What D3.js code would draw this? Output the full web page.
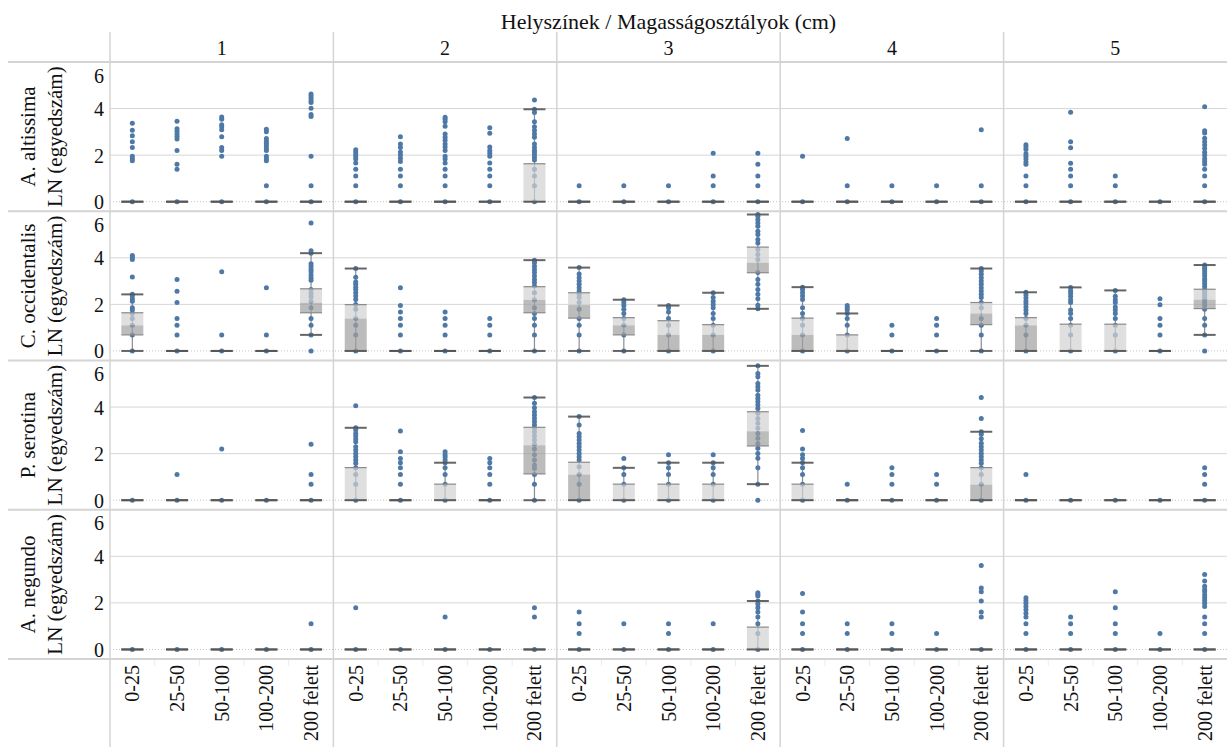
<!DOCTYPE html>
<html lang="hu">
<head>
  <meta charset="utf-8">
  <title>Helyszínek / Magasságosztályok (cm)</title>
  <script type="text/javascript" src="https://cdn.jsdelivr.net/npm/d3@7"></script>
  <style>
    body {
      margin: 0;
      background: #fff;
    }

    svg, svg text {
      display: block;
      font-family: "Liberation Serif", Tinos, "DejaVu Serif", "Noto Serif", FreeSerif, serif;
    }
  </style>
</head>

<body>
<script>
  var locations = ["1", "2", "3", "4", "5"];
  var heightClasses = ["0-25", "25-50", "50-100", "100-200", "200 felett"];
  var species = ["A. altissima", "C. occidentalis", "P. serotina", "A. negundo"];
  var yTicks = [0, 2, 4, 6];

  // LN(egyedszám) values per location, per height class
  var altissimaDots = [
    [[3.37, 3.07, 2.83, 2.57, 2.33, 1.95, 1.84, 1.76, 0],
     [3.46, 3.13, 3.03, 2.91, 2.80, 2.69, 2.20, 1.61, 1.39, 0],
     [3.64, 3.54, 3.30, 3.22, 3.09, 2.79, 2.33, 2.20, 1.95, 0],
     [3.11, 3.00, 2.71, 2.60, 2.50, 2.40, 2.30, 2.20, 1.95, 1.84, 1.76, 0.69, 0],
     [4.63, 4.54, 4.44, 4.34, 4.26, 4.01, 3.74, 3.66, 1.95, 0.69, 0]],
    [[2.23, 2.14, 2.03, 1.93, 1.83, 1.66, 1.39, 1.10, 0.69, 0],
     [2.79, 2.48, 2.33, 2.14, 2.01, 1.87, 1.73, 1.39, 1.10, 0.69, 0],
     [3.63, 3.54, 3.43, 3.24, 2.91, 2.77, 2.64, 2.48, 2.35, 2.20, 1.95, 1.83, 1.66, 1.39, 1.10, 0.69, 0],
     [3.18, 2.94, 2.35, 2.20, 2.08, 1.95, 1.66, 1.39, 1.10, 0.69, 0],
     [4.37, 3.97, 3.83, 3.43, 3.22, 3.06, 2.91, 2.77, 2.48, 2.33, 2.20, 2.14, 2.03, 1.91, 1.79, 1.39, 1.10, 0.69, 0]],
    [[0.69, 0], [0.69, 0], [0.69, 0], [2.08, 1.10, 0.69, 0], [2.08, 1.61, 1.10, 0.69, 0]],
    [[1.95, 0], [2.71, 0.69, 0], [0.69, 0], [0.69, 0], [3.09, 0.69, 0]],
    [[2.45, 2.35, 2.24, 2.06, 1.95, 1.83, 1.70, 1.61, 1.10, 0.69, 0],
     [3.84, 2.58, 2.32, 1.65, 1.39, 1.10, 0.69, 0],
     [1.10, 0.69, 0],
     [0],
     [4.08, 3.05, 2.95, 2.72, 2.58, 2.44, 2.29, 2.12, 1.99, 1.84, 1.73, 1.61, 1.39, 1.10, 0.69, 0]]
  ];

  var occidentalisDots = [
    [[4.10, 4.01, 3.93, 3.18, 2.43, 2.37, 2.24, 2.13, 1.86, 1.76, 1.61, 1.39, 1.10, 0.69, 0],
     [3.07, 2.56, 2.08, 1.39, 1.10, 0.69, 0],
     [3.40, 0.69, 0],
     [2.71, 0.69, 0],
     [5.50, 4.30, 4.20, 3.74, 3.63, 3.50, 3.40, 3.26, 3.14, 3.04, 2.64, 2.48, 2.33, 2.14, 1.86, 1.39, 1.10, 0.69, 0]],
    [[3.54, 3.17, 2.96, 2.86, 2.74, 2.64, 2.50, 2.36, 2.21, 2.00, 1.79, 1.39, 1.10, 0.69, 0],
     [2.71, 1.95, 1.67, 1.39, 1.10, 0.69, 0],
     [1.67, 1.39, 1.10, 0.69, 0],
     [1.39, 1.10, 0.69, 0],
     [3.90, 3.79, 3.64, 3.50, 3.37, 3.22, 3.07, 2.94, 2.79, 2.50, 2.20, 1.86, 1.61, 1.39, 1.10, 0.69, 0]],
    [[3.58, 3.30, 3.14, 3.00, 2.86, 2.71, 2.57, 2.43, 2.30, 2.08, 1.79, 1.39, 1.10, 0.69, 0],
     [2.20, 2.08, 1.95, 1.79, 1.61, 1.39, 1.10, 0.69, 0],
     [1.95, 1.86, 1.67, 1.39, 1.10, 0.69, 0],
     [2.50, 2.30, 2.14, 2.00, 1.86, 1.61, 1.39, 1.10, 0.69, 0],
     [5.86, 5.79, 5.64, 5.50, 5.36, 5.14, 5.00, 4.79, 4.64, 4.36, 4.14, 3.93, 3.37, 3.07, 2.86, 2.64, 2.43, 2.24, 1.96, 1.81]],
    [[2.74, 2.64, 2.50, 2.36, 2.21, 1.86, 1.61, 1.39, 1.10, 0.69, 0],
     [1.95, 1.86, 1.76, 1.61, 1.39, 1.10, 0.69, 0],
     [1.10, 0.69, 0],
     [1.39, 1.10, 0.69, 0],
     [3.54, 3.43, 3.29, 3.14, 3.00, 2.86, 2.71, 2.57, 2.43, 2.30, 2.08, 1.86, 1.39, 1.10, 0.69, 0]],
    [[2.52, 2.40, 2.27, 2.14, 2.02, 1.89, 1.76, 1.61, 1.39, 1.10, 0.69, 0],
     [2.73, 2.59, 2.48, 2.35, 2.20, 2.08, 1.76, 1.61, 1.39, 1.10, 0.69, 0],
     [2.60, 2.35, 2.20, 2.08, 1.89, 1.76, 1.61, 1.39, 1.10, 0.69, 0],
     [2.24, 1.98, 1.39, 1.10, 0.69, 0],
     [3.69, 3.61, 3.53, 3.43, 3.33, 3.22, 3.09, 3.00, 2.89, 2.77, 2.64, 2.56, 2.48, 2.40, 2.30, 2.20, 2.08, 1.95, 1.79, 1.39, 1.10, 0.69, 0]]
  ];

  var serotinaDots = [
    [[0], [1.10, 0], [2.20, 0], [0], [2.40, 1.10, 0.69, 0]],
    [[4.06, 3.11, 3.01, 2.87, 2.76, 2.63, 2.51, 2.30, 2.16, 2.01, 1.87, 1.73, 1.59, 1.39, 1.10, 0.69, 0],
     [2.97, 2.08, 1.79, 1.61, 1.39, 1.10, 0.69, 0],
     [2.08, 1.95, 1.86, 1.73, 1.61, 1.39, 1.10, 0.69, 0],
     [1.79, 1.61, 1.39, 1.10, 0.69, 0],
     [4.41, 4.16, 3.97, 3.80, 3.66, 3.51, 3.37, 3.23, 3.09, 2.94, 2.77, 2.59, 2.40, 2.20, 1.95, 1.73, 1.51, 1.37, 1.10, 0.69, 0]],
    [[3.59, 3.23, 2.87, 2.73, 2.59, 2.44, 2.30, 2.16, 2.01, 1.87, 1.73, 1.44, 1.10, 0.69, 0],
     [1.79, 1.39, 1.10, 0.69, 0],
     [1.95, 1.61, 1.39, 1.10, 0.69, 0],
     [1.95, 1.61, 1.39, 1.10, 0.69, 0],
     [5.77, 5.44, 5.30, 5.01, 4.87, 4.73, 4.51, 4.37, 4.23, 4.09, 3.94, 3.73, 3.51, 3.30, 3.09, 2.87, 2.66, 2.44, 2.23, 2.01, 1.80, 1.39, 0.69, 0]],
    [[2.99, 2.20, 1.95, 1.79, 1.61, 1.39, 1.10, 0.69, 0],
     [0.69, 0],
     [1.39, 1.10, 0.69, 0],
     [1.10, 0.69, 0],
     [4.41, 3.51, 2.94, 2.83, 2.64, 2.45, 2.30, 2.16, 2.01, 1.87, 1.73, 1.59, 1.39, 1.10, 0.69, 0]],
    [[1.10, 0], [0], [0], [0], [1.39, 1.10, 0.69, 0]]
  ];

  var negundoDots = [
    [[0], [0], [0], [0], [1.10, 0]],
    [[1.79, 0], [0], [1.39, 0], [0], [1.79, 1.39, 0]],
    [[1.61, 1.10, 0.69, 0], [1.10, 0], [1.10, 0.69, 0], [1.10, 0],
     [2.43, 2.36, 2.30, 2.08, 1.95, 1.79, 1.61, 1.39, 1.10, 0.69, 0]],
    [[2.40, 1.61, 1.10, 0.69, 0], [1.10, 0.69, 0], [1.10, 0.69, 0], [0.69, 0],
     [3.61, 2.64, 2.48, 2.08, 1.61, 1.39, 0]],
    [[2.22, 2.10, 1.98, 1.84, 1.71, 1.56, 1.39, 1.10, 0.69, 0],
     [1.39, 1.10, 0.69, 0],
     [2.48, 1.79, 1.10, 0.69, 0],
     [0.69, 0],
     [3.22, 2.94, 2.71, 2.58, 2.48, 2.34, 2.22, 2.10, 1.98, 1.84, 1.39, 1.10, 0.69, 0]]
  ];

  // box plots: [whisker low, Q1, median, Q3, whisker high]
  var altissimaBoxes = [
    [[0, 0, 0, 0, 0], [0, 0, 0, 0, 0], [0, 0, 0, 0, 0], [0, 0, 0, 0, 0], [0, 0, 0, 0, 0]],
    [[0, 0, 0, 0, 0], [0, 0, 0, 0, 0], [0, 0, 0, 0, 0], [0, 0, 0, 0, 0], [0, 0, 0, 1.63, 3.97]],
    [[0, 0, 0, 0, 0], [0, 0, 0, 0, 0], [0, 0, 0, 0, 0], [0, 0, 0, 0, 0], [0, 0, 0, 0, 0]],
    [[0, 0, 0, 0, 0], [0, 0, 0, 0, 0], [0, 0, 0, 0, 0], [0, 0, 0, 0, 0], [0, 0, 0, 0, 0]],
    [[0, 0, 0, 0, 0], [0, 0, 0, 0, 0], [0, 0, 0, 0, 0], [0, 0, 0, 0, 0], [0, 0, 0, 0, 0]]
  ];

  var occidentalisBoxes = [
    [[0, 0.69, 1.10, 1.64, 2.43], [0, 0, 0, 0, 0], [0, 0, 0, 0, 0], [0, 0, 0, 0, 0], [0.69, 1.64, 2.07, 2.67, 4.20]],
    [[0, 0, 1.39, 1.99, 3.54], [0, 0, 0, 0, 0], [0, 0, 0, 0, 0], [0, 0, 0, 0, 0], [0, 1.64, 2.19, 2.76, 3.90]],
    [[0, 1.41, 1.97, 2.50, 3.58], [0, 0.69, 1.10, 1.43, 2.20], [0, 0, 0.69, 1.30, 1.95], [0, 0, 0.69, 1.13, 2.50], [1.81, 3.36, 3.79, 4.46, 5.86]],
    [[0, 0, 0.69, 1.41, 2.74], [0, 0, 0, 0.69, 1.61], [0, 0, 0, 0, 0], [0, 0, 0, 0, 0], [0, 1.13, 1.61, 2.08, 3.54]],
    [[0, 0, 1.10, 1.43, 2.52], [0, 0, 0, 1.15, 2.73], [0, 0, 0, 1.15, 2.60], [0, 0, 0, 0, 0], [0.69, 1.82, 2.20, 2.65, 3.69]]
  ];

  var serotinaBoxes = [
    [[0, 0, 0, 0, 0], [0, 0, 0, 0, 0], [0, 0, 0, 0, 0], [0, 0, 0, 0, 0], [0, 0, 0, 0, 0]],
    [[0, 0, 0, 1.40, 3.11], [0, 0, 0, 0, 0], [0, 0, 0, 0.69, 1.61], [0, 0, 0, 0, 0], [0, 1.13, 2.36, 3.13, 4.41]],
    [[0, 0, 1.10, 1.63, 3.59], [0, 0, 0, 0.69, 1.39], [0, 0, 0, 0.69, 1.61], [0, 0, 0, 0.69, 1.61], [0.69, 2.33, 2.96, 3.80, 5.77]],
    [[0, 0, 0, 0.69, 1.61], [0, 0, 0, 0, 0], [0, 0, 0, 0, 0], [0, 0, 0, 0, 0], [0, 0, 0.67, 1.40, 2.94]],
    [[0, 0, 0, 0, 0], [0, 0, 0, 0, 0], [0, 0, 0, 0, 0], [0, 0, 0, 0, 0], [0, 0, 0, 0, 0]]
  ];

  var negundoBoxes = [
    [[0, 0, 0, 0, 0], [0, 0, 0, 0, 0], [0, 0, 0, 0, 0], [0, 0, 0, 0, 0], [0, 0, 0, 0, 0]],
    [[0, 0, 0, 0, 0], [0, 0, 0, 0, 0], [0, 0, 0, 0, 0], [0, 0, 0, 0, 0], [0, 0, 0, 0, 0]],
    [[0, 0, 0, 0, 0], [0, 0, 0, 0, 0], [0, 0, 0, 0, 0], [0, 0, 0, 0, 0], [0, 0, 0, 0.96, 2.08]],
    [[0, 0, 0, 0, 0], [0, 0, 0, 0, 0], [0, 0, 0, 0, 0], [0, 0, 0, 0, 0], [0, 0, 0, 0, 0]],
    [[0, 0, 0, 0, 0], [0, 0, 0, 0, 0], [0, 0, 0, 0, 0], [0, 0, 0, 0, 0], [0, 0, 0, 0, 0]]
  ];

  var allDots = [altissimaDots, occidentalisDots, serotinaDots, negundoDots];
  var allBoxes = [altissimaBoxes, occidentalisBoxes, serotinaBoxes, negundoBoxes];

  var width = 1227,
    height = 747,
    plotLeft = 110,
    plotTop = 62,
    plotBottom = 659,
    headerTop = 32,
    boxWidth = 22,
    serif = '"Liberation Serif", Tinos, "DejaVu Serif", "Noto Serif", FreeSerif, serif';

  var x = d3.scaleBand().domain(locations).range([plotLeft, width]);
  var xInner = d3.scaleBand().domain(heightClasses).range([0, x.bandwidth()]);
  var row = d3.scaleBand().domain(species).range([plotTop, plotBottom]);
  var y = d3.scaleLinear().domain([-0.41, 6]).range([row.bandwidth(), 0]);

  var svg = d3.select("body")
    .append("svg")
    .attr("width", width)
    .attr("height", height)
    .attr("font-family", serif);

  // title + column headers
  svg.append("text")
    .attr("x", (plotLeft + width) / 2)
    .attr("y", 29)
    .attr("text-anchor", "middle")
    .style("font-size", "22px")
    .style("fill", "#111")
    .text("Helyszínek / Magasságosztályok (cm)");

  svg.selectAll(".colhead")
    .data(locations)
    .enter().append("text")
    .attr("class", "colhead")
    .attr("x", function(d) { return x(d) + x.bandwidth() / 2; })
    .attr("y", 55)
    .attr("text-anchor", "middle")
    .style("font-size", "20px")
    .style("fill", "#111")
    .text(function(d) { return d; });

  // rows: grid, axis, labels
  species.forEach(function(sp, si) {
    var g = svg.append("g").attr("transform", "translate(0," + row(sp) + ")");

    g.selectAll(".grid")
      .data(yTicks.filter(function(t) { return t > 0 && t < 6; }))
      .enter().append("line")
      .attr("x1", plotLeft).attr("x2", width)
      .attr("y1", function(d) { return y(d); })
      .attr("y2", function(d) { return y(d); })
      .attr("stroke", "#d6d6d6")
      .attr("stroke-width", 1);

    g.append("line")
      .attr("x1", plotLeft).attr("x2", width)
      .attr("y1", y(0)).attr("y2", y(0))
      .attr("stroke", "#c4c4c4")
      .attr("stroke-dasharray", "1,2");

    var ax = g.append("g")
      .attr("transform", "translate(104,0)")
      .call(d3.axisLeft(y).tickValues(yTicks).tickSize(0).tickPadding(0).tickFormat(d3.format("d")));
    ax.attr("font-family", null);
    ax.select(".domain").remove();
    ax.selectAll("text")
      .style("font-size", "20px")
      .style("fill", "#111")
      .attr("dy", function(d) { return d === 6 ? "1.0em" : "0.35em"; });

    var lab = g.append("text")
      .attr("transform", "translate(35," + row.bandwidth() / 2 + ") rotate(-90)")
      .attr("text-anchor", "middle")
      .style("font-size", "21px")
      .style("fill", "#111");
    lab.append("tspan").attr("x", 0).attr("y", 0).text(sp);
    lab.append("tspan").attr("x", 0).attr("y", 27).text("LN (egyedszám)");
  });

  // pane borders
  svg.selectAll(".hborder")
    .data(species.map(function(s) { return row(s); }).concat([plotBottom]))
    .enter().append("line")
    .attr("x1", 8).attr("x2", width)
    .attr("y1", function(d) { return d; })
    .attr("y2", function(d) { return d; })
    .attr("stroke", "#d4d4d4")
    .attr("stroke-width", 2);

  svg.selectAll(".vborder")
    .data(locations)
    .enter().append("line")
    .attr("x1", function(d) { return x(d); })
    .attr("x2", function(d) { return x(d); })
    .attr("y1", headerTop).attr("y2", height)
    .attr("stroke", "#d4d4d4")
    .attr("stroke-width", 1.5);

  // x labels
  locations.forEach(function(loc) {
    heightClasses.forEach(function(hc, hi) {
      var cx = x(loc) + xInner(hc) + xInner.bandwidth() / 2;
      if (hi > 0) {
        svg.append("line")
          .attr("x1", x(loc) + xInner(hc)).attr("x2", x(loc) + xInner(hc))
          .attr("y1", plotBottom + 1).attr("y2", plotBottom + 7)
          .attr("stroke", "#ececec");
      }
      svg.append("text")
        .attr("transform", "translate(" + cx + ",665) rotate(-90)")
        .attr("text-anchor", "end")
        .attr("dy", "0.35em")
        .style("font-size", "20px")
        .style("fill", "#111")
        .text(hc);
    });
  });

  // marks
  species.forEach(function(sp, si) {
    var g = svg.append("g").attr("transform", "translate(0," + row(sp) + ")");
    locations.forEach(function(loc, li) {
      heightClasses.forEach(function(hc, hi) {
        var cx = x(loc) + xInner(hc) + xInner.bandwidth() / 2;
        var b = allBoxes[si][li][hi];
        var vals = allDots[si][li][hi];

        if (b[4] > b[0]) {
          g.append("line")
            .attr("x1", cx).attr("x2", cx)
            .attr("y1", y(b[0])).attr("y2", y(b[4]))
            .attr("stroke", "#8c8c8c")
            .attr("stroke-width", 1.2);
        }

        g.selectAll(null)
          .data(vals)
          .enter().append("circle")
          .attr("cx", cx)
          .attr("cy", function(d) { return y(d); })
          .attr("r", 2.5)
          .attr("fill", "#4e79a7");

        if (b[3] > b[1]) {
          if (b[3] > b[2]) {
            g.append("rect")
              .attr("x", cx - boxWidth / 2).attr("width", boxWidth)
              .attr("y", y(b[3])).attr("height", y(b[2]) - y(b[3]))
              .attr("fill", "#d2d2d2").attr("fill-opacity", 0.7);
          }
          if (b[2] > b[1]) {
            g.append("rect")
              .attr("x", cx - boxWidth / 2).attr("width", boxWidth)
              .attr("y", y(b[2])).attr("height", y(b[1]) - y(b[2]))
              .attr("fill", "#a0a0a0").attr("fill-opacity", 0.7);
          }
          [b[1], b[3]].forEach(function(v) {
            g.append("line")
              .attr("x1", cx - boxWidth / 2).attr("x2", cx + boxWidth / 2)
              .attr("y1", y(v)).attr("y2", y(v))
              .attr("stroke", "#8a8a8a")
              .attr("stroke-width", 1.2);
          });
        }

        [b[0], b[4]].forEach(function(v) {
          g.append("line")
            .attr("x1", cx - boxWidth / 2).attr("x2", cx + boxWidth / 2)
            .attr("y1", y(v)).attr("y2", y(v))
            .attr("stroke", "#555")
            .attr("stroke-opacity", 0.9)
            .attr("stroke-width", 2);
        });
      });
    });
  });
</script>
</body>

</html>
